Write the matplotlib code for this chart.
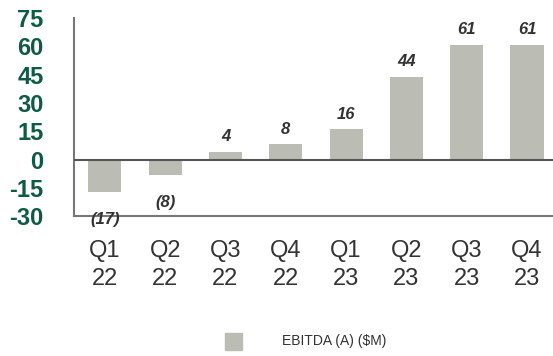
import numpy as np
import matplotlib
matplotlib.use("Agg")
import matplotlib.pyplot as plt
from matplotlib.patches import Rectangle

quarters = ["Q1\n22", "Q2\n22", "Q3\n22", "Q4\n22", "Q1\n23", "Q2\n23", "Q3\n23", "Q4\n23"]
ebitda = [-17, -8, 4, 8, 16, 44, 61, 61]
labels = ["(17)", "(8)", "4", "8", "16", "44", "61", "61"]
yticks = [-30, -15, 0, 15, 30, 45, 60, 75]

bar_color = "#bbbcb4"
green = "#0e5a44"
text_dark = "#333333"
font = "Liberation Sans"

fig = plt.figure(figsize=(5.53, 3.56), dpi=100)
ax = fig.add_axes([0.134, 0.393, 0.866, 0.556])

x = np.arange(len(quarters))
ax.bar(x, ebitda, width=0.55, color=bar_color, zorder=2)
ax.axhline(0, color="#555555", lw=1.5, zorder=3)

# value labels above / below the bars
for xi, v, lab in zip(x, ebitda, labels):
    off = 11 if v >= 0 else -20
    ax.annotate(lab, (xi, v), xytext=(0, off), textcoords="offset points",
                ha="center", va="center",
                fontsize=12, fontweight="bold", fontstyle="italic",
                color=text_dark, family=font)

ax.set_xlim(-0.51, 7.43)
ax.set_ylim(-30, 75)
ax.set_yticks(yticks)
ax.set_yticklabels([str(t) for t in yticks], fontsize=17, fontweight="bold",
                   color=green, family=font)
ax.set_xticks(x)
ax.set_xticklabels(quarters, fontsize=17, color=text_dark, family=font,
                   linespacing=1.35)
ax.tick_params(axis="y", length=0, pad=22)
ax.tick_params(axis="x", length=0, pad=17)

for s in ["top", "right"]:
    ax.spines[s].set_visible(False)
for s in ["left", "bottom"]:
    ax.spines[s].set_color("#777777")
    ax.spines[s].set_linewidth(1.5)

# legend
fig.patches.append(Rectangle((225 / 553, 1 - 350 / 356), 17 / 553, 17 / 356,
                             transform=fig.transFigure, color=bar_color))
fig.text(282 / 553, 1 - 341 / 356, "EBITDA (A) ($M)", fontsize=10,
         color=text_dark, va="center", ha="left", family=font)

fig.savefig("out.png", dpi=100)
